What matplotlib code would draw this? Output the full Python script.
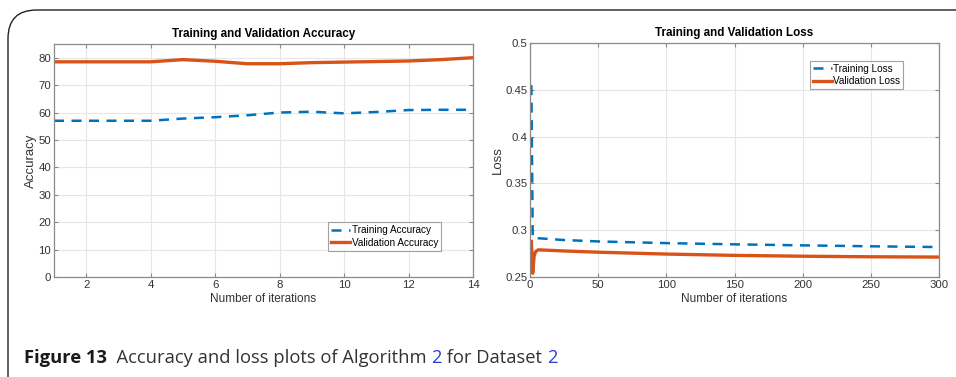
import matplotlib
matplotlib.use("Agg")
import matplotlib.pyplot as plt
from matplotlib.patches import FancyBboxPatch

# accuracy data (per iteration)
acc_iter = [1, 2, 3, 4, 5, 6, 7, 8, 9, 10, 11, 12, 13, 14]
train_acc = [57.0, 57.0, 57.0, 57.0, 57.8, 58.3, 59.0, 60.0, 60.3, 59.7, 60.2, 60.9, 61.0, 61.0]
val_acc = [78.5, 78.5, 78.5, 78.5, 79.3, 78.7, 77.8, 77.8, 78.2, 78.4, 78.6, 78.8, 79.3, 80.0]

# loss data
tl_iter = [1, 2, 5, 10, 25, 50, 100, 150, 200, 250, 300]
train_loss = [0.455, 0.292, 0.2915, 0.291, 0.2895, 0.288, 0.2862, 0.2849, 0.2838, 0.2828, 0.282]
vl_iter = [1, 2, 3, 4, 6, 10, 25, 50, 100, 150, 200, 250, 300]
val_loss = [0.288, 0.254, 0.272, 0.277, 0.279, 0.2788, 0.2778, 0.2765, 0.2745, 0.2731, 0.2722, 0.2716, 0.2713]

acc_yticks = [0, 10, 20, 30, 40, 50, 60, 70, 80]
acc_xticks = [2, 4, 6, 8, 10, 12, 14]
loss_yticks = [0.25, 0.3, 0.35, 0.4, 0.45, 0.5]
loss_ytick_labels = ["0.25", "0.3", "0.35", "0.4", "0.45", "0.5"]
loss_xticks = [0, 50, 100, 150, 200, 250, 300]

BLUE = "#0072BD"
ORANGE = "#D95319"

plt.rcParams["font.family"] = ["Liberation Sans", "DejaVu Sans"]

fig = plt.figure(figsize=(9.56, 3.77), dpi=100)

# rounded frame around the figure
frame = FancyBboxPatch((8 / 956, -0.2), 1.2, 1 - 10 / 377 + 0.2,
                       boxstyle="round,pad=0,rounding_size=0.03",
                       transform=fig.transFigure, fill=False,
                       edgecolor="#222222", linewidth=1.0, mutation_aspect=956 / 377)
fig.patches.append(frame)


def style_axes(ax):
    ax.grid(True, color="#e6e6e6", linewidth=0.8)
    ax.set_axisbelow(True)
    for s in ax.spines.values():
        s.set_color("#8a8a8a")
        s.set_linewidth(0.9)
    ax.tick_params(direction="in", top=True, right=True, length=3,
                   color="#8a8a8a", labelsize=8.2, labelcolor="#333333", pad=2)


def make_legend(ax, loc, anchor):
    leg = ax.legend(loc=loc, bbox_to_anchor=anchor, fontsize=7.2,
                    frameon=True, fancybox=False, edgecolor="#8a8a8a", handlelength=1.9,
                    handletextpad=0.15, borderpad=0.3, labelspacing=0.25, borderaxespad=0)
    leg.get_frame().set_linewidth(0.8)
    return leg


ax1 = fig.add_axes([54 / 956, 1 - 277 / 377, 419 / 956, 233 / 377])
ax1.plot(acc_iter, train_acc, "--", color=BLUE, linewidth=1.8, dashes=(4, 3), label="Training Accuracy")
ax1.plot(acc_iter, val_acc, "-", color=ORANGE, linewidth=2.4, label="Validation Accuracy")
ax1.set_xlim(1, 14)
ax1.set_ylim(0, 85)
ax1.set_xticks(acc_xticks)
ax1.set_yticks(acc_yticks)
style_axes(ax1)
ax1.set_title("Training and Validation Accuracy", fontsize=8.4, fontweight="bold", pad=5)
ax1.set_xlabel("Number of iterations", fontsize=8.5, color="#333333", labelpad=2)
ax1.set_ylabel("Accuracy", fontsize=9.5, color="#333333", labelpad=1)
make_legend(ax1, "lower right", (0.924, 0.112))

ax2 = fig.add_axes([530 / 956, 1 - 277 / 377, 409 / 956, 234 / 377])
ax2.plot(tl_iter, train_loss, "--", color=BLUE, linewidth=1.8, dashes=(4, 3), label="Training Loss")
ax2.plot(vl_iter, val_loss, "-", color=ORANGE, linewidth=2.4, label="Validation Loss")
ax2.set_xlim(0, 300)
ax2.set_ylim(0.25, 0.5)
ax2.set_xticks(loss_xticks)
ax2.set_yticks(loss_yticks)
ax2.set_yticklabels(loss_ytick_labels)
style_axes(ax2)
ax2.set_title("Training and Validation Loss", fontsize=8.4, fontweight="bold", pad=5)
ax2.set_xlabel("Number of iterations", fontsize=8.5, color="#333333", labelpad=2)
ax2.set_ylabel("Loss", fontsize=9.5, color="#333333", labelpad=1)
make_legend(ax2, "upper right", (0.912, 0.925))

# caption made of pieces with different weight / colour
cap_parts = [("Figure 13", "bold", "#1a1a1a"), ("  Accuracy and loss plots of Algorithm ", "normal", "#333333"),
             ("2", "normal", "#2a3fd6"), (" for Dataset ", "normal", "#333333"), ("2", "normal", "#2a3fd6")]
renderer = fig.canvas.get_renderer()
x = 24 / 956
for txt, w, c in cap_parts:
    t = fig.text(x, 1 - 358 / 377, txt, fontsize=13.2, fontweight=w, color=c,
                 family=["Open Sans", "DejaVu Sans"], va="center", ha="left")
    bb = t.get_window_extent(renderer=renderer)
    x += bb.width / fig.bbox.width

fig.savefig("out.png", dpi=100)
